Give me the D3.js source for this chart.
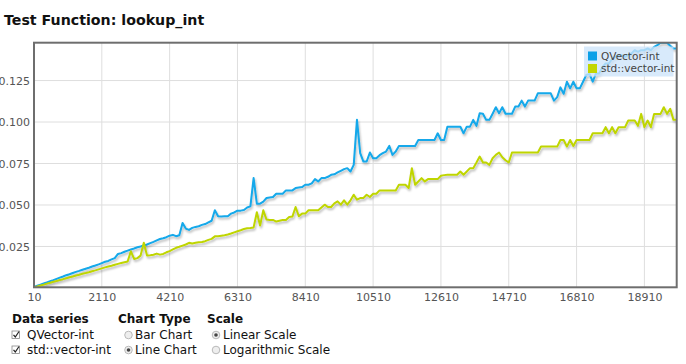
<!DOCTYPE html>
<html><head><meta charset="utf-8">
<script src="https://cdn.jsdelivr.net/npm/d3@7/dist/d3.min.js"></script>
<style>
html,body{margin:0;padding:0;background:#fff;}
svg{display:block;font-family:"DejaVu Sans",Verdana,sans-serif;}
</style></head><body>
<svg id="c" width="686" height="364"></svg>
<script>
const title = "Test Function: lookup_int";
const seriesNames = ["QVector-int", "std::vector-int"];
const seriesColors = ["#13a8ea", "#bfd500"];
const swatchColors = ["#0aa0e8", "#c2d600"];
const xStart = 10, xStep = 100;
const xTicks = [10, 2110, 4210, 6310, 8410, 10510, 12610, 14710, 16810, 18910];
const yTicks = [0.025, 0.050, 0.075, 0.100, 0.125];

const qvector = [
0.0006,0.0013,0.0020,0.0027,0.0034,0.0041,0.0047,0.0055,0.0062,0.0069,
0.0077,0.0083,0.0090,0.0097,0.0103,0.0110,0.0116,0.0122,0.0129,0.0135,
0.0142,0.0150,0.0158,0.0163,0.0172,0.0180,0.0205,0.0210,0.0218,0.0225,
0.0232,0.0238,0.0245,0.0250,0.0256,0.0262,0.0270,0.0278,0.0287,0.0295,
0.0300,0.0306,0.0315,0.0320,0.0312,0.0318,0.0392,0.0358,0.0350,0.0362,
0.0368,0.0372,0.0380,0.0385,0.0395,0.0405,0.0468,0.0432,0.0430,0.0432,
0.0432,0.0448,0.0455,0.0466,0.0466,0.0470,0.0485,0.0492,0.0662,0.0508,
0.0508,0.0520,0.0542,0.0545,0.0548,0.0568,0.0568,0.0568,0.0588,0.0588,
0.0588,0.0602,0.0605,0.0608,0.0622,0.0622,0.0630,0.0656,0.0642,0.0662,
0.0662,0.0670,0.0682,0.0685,0.0696,0.0706,0.0716,0.0722,0.0702,0.0742,
0.1013,0.0812,0.0762,0.0762,0.0816,0.0782,0.0782,0.0800,0.0812,0.0822,
0.0856,0.0802,0.0822,0.0856,0.0856,0.0856,0.0856,0.0856,0.0856,0.0892,
0.0892,0.0892,0.0892,0.0892,0.0892,0.0932,0.0892,0.0892,0.0972,0.0972,
0.0972,0.0972,0.0972,0.0932,0.0972,0.0972,0.1013,0.0977,0.1053,0.1050,
0.1013,0.1013,0.1050,0.1089,0.1053,0.1089,0.1050,0.1050,0.1050,0.1093,
0.1093,0.1129,0.1093,0.1129,0.1129,0.1129,0.1173,0.1173,0.1173,0.1173,
0.1173,0.1129,0.1150,0.1209,0.1170,0.1243,0.1203,0.1243,0.1203,0.1203,
0.1243,0.1283,0.1290,0.1243,0.1293,0.1293,0.1330,0.1353,0.1353,0.1380,
0.1393,0.1403,0.1403,0.1393,0.1403,0.1413,0.1433,0.1423,0.1433,0.1433,
0.1443,0.1433,0.1453,0.1463,0.1478,0.1478,0.1478,0.1460,0.1443,0.1443
];
const stdvector = [
0.0004,0.0009,0.0015,0.0020,0.0026,0.0031,0.0037,0.0042,0.0048,0.0053,
0.0059,0.0064,0.0069,0.0075,0.0080,0.0086,0.0090,0.0095,0.0101,0.0106,
0.0112,0.0118,0.0124,0.0129,0.0134,0.0140,0.0145,0.0150,0.0155,0.0160,
0.0221,0.0175,0.0180,0.0195,0.0272,0.0195,0.0197,0.0200,0.0207,0.0201,
0.0205,0.0215,0.0222,0.0232,0.0242,0.0248,0.0255,0.0262,0.0272,0.0268,
0.0272,0.0275,0.0277,0.0282,0.0290,0.0296,0.0311,0.0312,0.0315,0.0318,
0.0322,0.0328,0.0335,0.0342,0.0348,0.0355,0.0360,0.0362,0.0365,0.0456,
0.0376,0.0468,0.0412,0.0410,0.0410,0.0400,0.0405,0.0410,0.0410,0.0428,
0.0430,0.0488,0.0432,0.0448,0.0448,0.0468,0.0468,0.0468,0.0468,0.0485,
0.0502,0.0488,0.0488,0.0510,0.0522,0.0502,0.0528,0.0502,0.0528,0.0562,
0.0532,0.0542,0.0542,0.0562,0.0548,0.0568,0.0568,0.0588,0.0588,0.0588,
0.0588,0.0588,0.0588,0.0622,0.0622,0.0622,0.0602,0.0722,0.0622,0.0642,
0.0662,0.0642,0.0656,0.0656,0.0656,0.0656,0.0676,0.0680,0.0682,0.0682,
0.0682,0.0682,0.0702,0.0682,0.0702,0.0722,0.0722,0.0756,0.0792,0.0756,
0.0756,0.0742,0.0782,0.0802,0.0816,0.0788,0.0770,0.0756,0.0816,0.0816,
0.0816,0.0816,0.0816,0.0816,0.0816,0.0816,0.0816,0.0852,0.0852,0.0852,
0.0852,0.0852,0.0852,0.0892,0.0892,0.0852,0.0892,0.0856,0.0892,0.0892,
0.0892,0.0892,0.0892,0.0932,0.0932,0.0932,0.0932,0.0969,0.0932,0.0969,
0.0932,0.0969,0.0969,0.0969,0.1009,0.1009,0.1009,0.0977,0.1049,0.0969,
0.1009,0.0969,0.1049,0.1049,0.1049,0.1089,0.1049,0.1080,0.1013,0.1013
];
const series = [qvector, stdvector];

const svg = d3.select("#c");
const L = 34, R = 676.7, T = 42.7, B = 287.3;
const n = qvector.length;
const x = d3.scaleLinear().domain([xStart, xStart + (n-1)*xStep]).range([L, R]);
const all = qvector.concat(stdvector);
const y = d3.scaleLinear().domain(d3.extent(all)).range([B, T]);

const defs = svg.append("defs");
const f = defs.append("filter").attr("id","sh").attr("x","-5%").attr("y","-10%").attr("width","110%").attr("height","130%");
f.append("feGaussianBlur").attr("in","SourceAlpha").attr("stdDeviation",1.1);
f.append("feOffset").attr("dy",2).attr("dx",0.5).attr("result","o");
f.append("feFlood").attr("flood-color","#000").attr("flood-opacity",0.28);
f.append("feComposite").attr("in2","o").attr("operator","in");
const fm = f.append("feMerge"); fm.append("feMergeNode"); fm.append("feMergeNode").attr("in","SourceGraphic");
defs.append("clipPath").attr("id","clip").append("rect").attr("x",L).attr("y",T).attr("width",R-L).attr("height",B-T);

svg.append("text").attr("x",4).attr("y",25).attr("font-size",14.2).attr("font-weight","bold").attr("fill","#111").text(title);

// grid
svg.append("g").selectAll("line").data(xTicks.slice(1)).join("line")
  .attr("x1",d=>x(d)).attr("x2",d=>x(d)).attr("y1",T).attr("y2",B)
  .attr("stroke","#dedede").attr("stroke-width",1);
svg.append("g").selectAll("line").data(yTicks).join("line")
  .attr("x1",L).attr("x2",R).attr("y1",d=>y(d)).attr("y2",d=>y(d))
  .attr("stroke","#dedede").attr("stroke-width",1);

// axes labels via d3 axes
const xAxis = d3.axisBottom(x).tickValues(xTicks).tickSize(0).tickPadding(6).tickFormat(d3.format("d"));
const gx = svg.append("g").attr("transform",`translate(0,${B})`).call(xAxis);
gx.select(".domain").remove();
gx.selectAll("text").attr("font-size",11).attr("fill","#555").attr("font-family","DejaVu Sans, sans-serif");
const yAxis = d3.axisLeft(y).tickValues(yTicks).tickSize(0).tickPadding(4).tickFormat(d3.format(".3f"));
const gy = svg.append("g").attr("transform",`translate(${L},0)`).call(yAxis);
gy.select(".domain").remove();
gy.selectAll("text").attr("font-size",11).attr("fill","#555").attr("font-family","DejaVu Sans, sans-serif");

// lines
const line = d3.line().x((d,i)=>x(xStart+i*xStep)).y(d=>y(d));
const lg = svg.append("g").attr("clip-path","url(#clip)");
series.forEach((s,k)=>{
  lg.append("path").datum(s).attr("d",line).attr("fill","none")
    .attr("stroke",seriesColors[k]).attr("stroke-width",2).attr("stroke-linejoin","round")
    .attr("filter","url(#sh)");
});

// frame
svg.append("rect").attr("x",L).attr("y",T).attr("width",R-L).attr("height",B-T)
  .attr("fill","none").attr("stroke","#6e6e6e").attr("stroke-width",2);

// legend
const leg = svg.append("g");
leg.append("rect").attr("x",584).attr("y",46.5).attr("width",89.5).attr("height",30)
  .attr("fill","rgb(205,228,250)").attr("fill-opacity",0.78);
seriesNames.forEach((nm,k)=>{
  leg.append("rect").attr("x",588).attr("y",51.5+k*12.5).attr("width",9).attr("height",9).attr("fill",swatchColors[k]);
  leg.append("text").attr("x",601).attr("y",59.5+k*12.5).attr("font-size",10.5).attr("fill","#444").text(nm);
});

// controls
const ctl = svg.append("g").attr("font-size",12).attr("fill","#111");
const headers = [["Data series",12],["Chart Type",118],["Scale",207]];
headers.forEach(h=>ctl.append("text").attr("x",h[1]).attr("y",323).attr("font-weight","bold").text(h[0]));
const rows = [339, 354];
function checkbox(cx, cy){
  ctl.append("rect").attr("x",cx).attr("y",cy-8).attr("width",7.5).attr("height",7.5).attr("fill","#fff").attr("stroke","#888").attr("stroke-width",0.8);
  ctl.append("path").attr("d",`M${cx+1.5},${cy-4.2} L${cx+3.3},${cy-2} L${cx+7},${cy-7.5}`).attr("fill","none").attr("stroke","#222").attr("stroke-width",1.2);
}
function radio(cx, cy, on){
  ctl.append("circle").attr("cx",cx).attr("cy",cy-4).attr("r",3.8).attr("fill","#eee").attr("stroke","#aaa").attr("stroke-width",0.8);
  if(on) ctl.append("circle").attr("cx",cx).attr("cy",cy-4).attr("r",1.8).attr("fill","#444");
}
seriesNames.forEach((nm,k)=>{ checkbox(12, rows[k]); ctl.append("text").attr("x",27).attr("y",rows[k]).text(nm); });
const chartTypes = [["Bar Chart",false],["Line Chart",true]];
chartTypes.forEach((c,k)=>{ radio(128.5, rows[k], c[1]); ctl.append("text").attr("x",135).attr("y",rows[k]).text(c[0]); });
const scales = [["Linear Scale",true],["Logarithmic Scale",false]];
scales.forEach((c,k)=>{ radio(216, rows[k], c[1]); ctl.append("text").attr("x",223).attr("y",rows[k]).text(c[0]); });
</script></body></html>
